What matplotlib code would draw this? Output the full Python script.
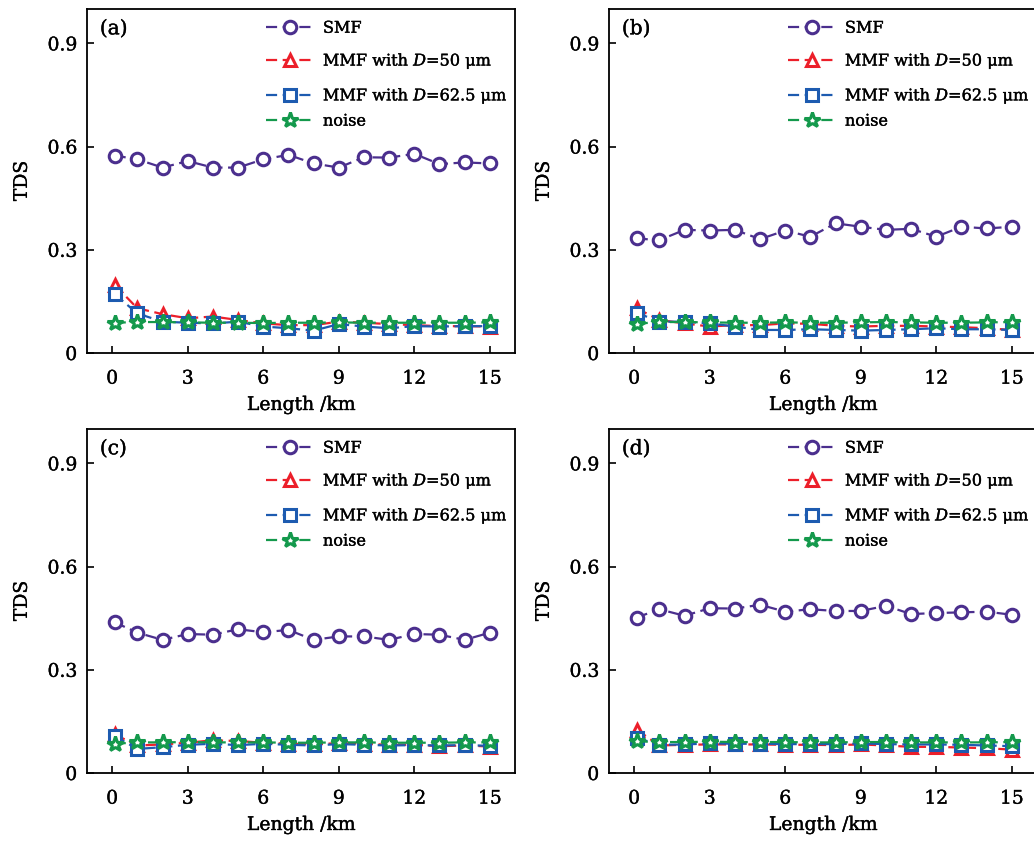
import matplotlib
matplotlib.use("Agg")
import matplotlib.pyplot as plt
import matplotlib.patheffects as pe
from matplotlib.ticker import FuncFormatter

plt.rcParams['font.family'] = ['DejaVu Serif']
plt.rcParams['mathtext.fontset'] = 'dejavuserif'

length_km = [0.1, 1, 2, 3, 4, 5, 6, 7, 8, 9, 10, 11, 12, 13, 14, 15]

smf_a = [0.574, 0.563, 0.539, 0.558, 0.539, 0.539, 0.563, 0.576, 0.551, 0.539, 0.569, 0.568, 0.579, 0.549, 0.554, 0.551]
mmf50_a = [0.198, 0.130, 0.113, 0.101, 0.106, 0.096, 0.086, 0.081, 0.081, 0.091, 0.088, 0.084, 0.081, 0.078, 0.078, 0.077]
mmf625_a = [0.171, 0.115, 0.091, 0.088, 0.086, 0.091, 0.077, 0.072, 0.065, 0.084, 0.077, 0.072, 0.078, 0.077, 0.078, 0.078]
noise_a = [0.088, 0.090, 0.090, 0.089, 0.088, 0.088, 0.087, 0.088, 0.088, 0.089, 0.088, 0.088, 0.088, 0.088, 0.088, 0.089]

smf_b = [0.333, 0.328, 0.358, 0.356, 0.358, 0.331, 0.356, 0.338, 0.377, 0.367, 0.358, 0.361, 0.338, 0.367, 0.362, 0.367]
mmf50_b = [0.130, 0.096, 0.086, 0.077, 0.081, 0.081, 0.086, 0.085, 0.079, 0.077, 0.079, 0.079, 0.077, 0.075, 0.072, 0.067]
mmf625_b = [0.117, 0.091, 0.091, 0.086, 0.077, 0.067, 0.067, 0.069, 0.067, 0.065, 0.067, 0.069, 0.072, 0.069, 0.069, 0.067]
noise_b = [0.085, 0.090, 0.090, 0.089, 0.088, 0.088, 0.089, 0.088, 0.088, 0.089, 0.090, 0.089, 0.088, 0.088, 0.089, 0.090]

smf_c = [0.438, 0.408, 0.387, 0.404, 0.402, 0.418, 0.409, 0.416, 0.387, 0.397, 0.397, 0.387, 0.404, 0.402, 0.387, 0.408]
mmf50_c = [0.112, 0.080, 0.083, 0.088, 0.095, 0.093, 0.088, 0.085, 0.083, 0.087, 0.085, 0.082, 0.082, 0.078, 0.080, 0.077]
mmf625_c = [0.107, 0.070, 0.075, 0.082, 0.085, 0.081, 0.085, 0.082, 0.080, 0.084, 0.082, 0.080, 0.081, 0.080, 0.081, 0.079]
noise_c = [0.085, 0.089, 0.089, 0.090, 0.089, 0.089, 0.089, 0.088, 0.088, 0.089, 0.089, 0.088, 0.088, 0.088, 0.089, 0.089]

smf_d = [0.452, 0.476, 0.457, 0.479, 0.478, 0.489, 0.469, 0.476, 0.471, 0.471, 0.486, 0.462, 0.465, 0.467, 0.469, 0.460]
mmf50_d = [0.126, 0.080, 0.082, 0.083, 0.083, 0.083, 0.082, 0.082, 0.081, 0.083, 0.080, 0.076, 0.076, 0.074, 0.072, 0.068]
mmf625_d = [0.102, 0.082, 0.083, 0.086, 0.085, 0.085, 0.084, 0.084, 0.084, 0.086, 0.084, 0.083, 0.083, 0.082, 0.080, 0.078]
noise_d = [0.092, 0.090, 0.090, 0.091, 0.090, 0.090, 0.090, 0.089, 0.089, 0.090, 0.090, 0.089, 0.089, 0.089, 0.089, 0.090]

panels = [
    ("(a)", smf_a, mmf50_a, mmf625_a, noise_a),
    ("(b)", smf_b, mmf50_b, mmf625_b, noise_b),
    ("(c)", smf_c, mmf50_c, mmf625_c, noise_c),
    ("(d)", smf_d, mmf50_d, mmf625_d, noise_d),
]

series_labels = ["SMF", r"MMF with $D$=50 μm", r"MMF with $D$=62.5 μm", "noise"]
series_colors = ["#4b2f8e", "#ec1f2a", "#1d5bb0", "#14994c"]
series_markers = ["o", "^", "s", "*"]
x_ticks = [0, 3, 6, 9, 12, 15]
y_ticks = [0, 0.3, 0.6, 0.9]

W, H = 1034, 844
fig = plt.figure(figsize=(W / 100, H / 100), dpi=100)

positions = [(87, 9), (609, 9), (87, 429), (609, 429)]
aw, ah = 428, 344
heavy = [pe.withStroke(linewidth=0.25, foreground="black")]

def fmt(v, pos):
    return "0" if abs(v) < 1e-9 else f"{v:.1f}"

for (lab, *series), (px, py) in zip(panels, positions):
    ax = fig.add_axes([px / W, 1 - (py + ah) / H, aw / W, ah / H])
    handles = []
    for vals, name, col, mk in zip(series, series_labels, series_colors, series_markers):
        ms = 11.5 if mk == "*" else 9
        h, = ax.plot(length_km, vals, linestyle=(0, (5, 2.5)), color=col, lw=1.6,
                     marker=mk, markersize=ms, markerfacecolor="white",
                     markeredgecolor=col, markeredgewidth=2.2, label=name)
        handles.append(h)
    ax.set_xlim(-1, 16)
    ax.set_ylim(0, 1.0)
    ax.set_xticks(x_ticks)
    ax.set_yticks(y_ticks)
    ax.yaxis.set_major_formatter(FuncFormatter(fmt))
    ax.tick_params(direction="in", length=5, width=1.2, labelsize=13.5)
    ax.tick_params(axis="x", pad=12)
    ax.tick_params(axis="y", pad=7)
    for s in ax.spines.values():
        s.set_linewidth(1.3)
    xl = ax.set_xlabel("Length /km", fontsize=13.5, labelpad=6)
    yl = ax.set_ylabel("TDS", fontsize=13.5, labelpad=12)
    t = ax.text(0.03, 0.97, lab, transform=ax.transAxes, fontsize=14.5, va="top", ha="left")
    common = dict(frameon=False, fontsize=11.6, handlelength=3.0, handletextpad=0.55)
    leg1 = ax.legend(handles[:3], series_labels[:3], loc="upper left",
                     bbox_to_anchor=(0.395, 0.997), labelspacing=0.86,
                     borderaxespad=0.2, **common)
    ax.add_artist(leg1)
    leg2 = ax.legend(handles[3:], series_labels[3:], loc="center left",
                     bbox_to_anchor=(0.395, 0.674), borderaxespad=0.2, **common)
    texts = [xl, yl, t] + leg1.get_texts() + leg2.get_texts()
    texts += ax.get_xticklabels() + ax.get_yticklabels()
    for tx in texts:
        tx.set_path_effects(heavy)

fig.savefig("out.png", dpi=100)
